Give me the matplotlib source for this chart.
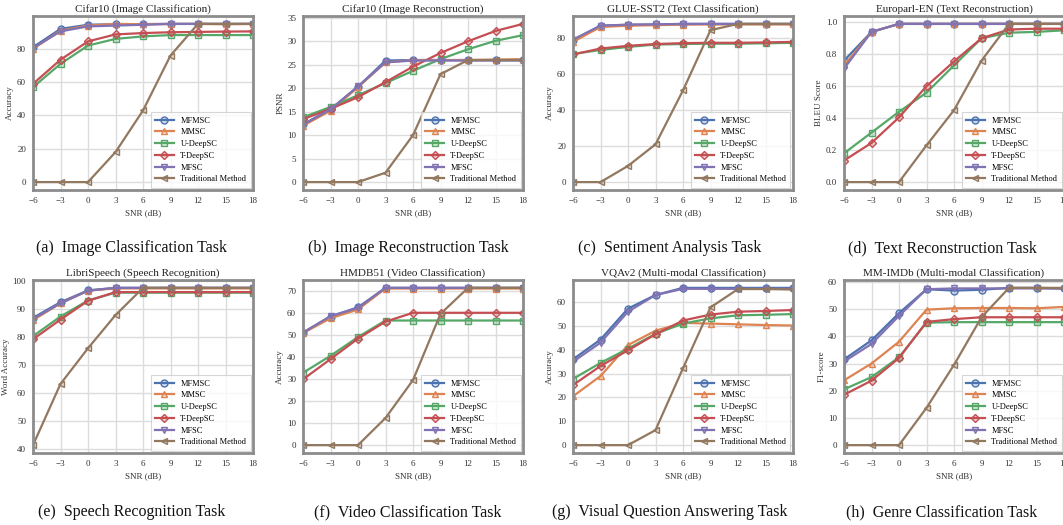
import matplotlib
matplotlib.use("Agg")
import matplotlib.pyplot as plt
from matplotlib.colors import to_rgba

snr = [-6, -3, 0, 3, 6, 9, 12, 15, 18]
methods = ["MFMSC", "MMSC", "U-DeepSC", "T-DeepSC", "MFSC", "Traditional Method"]

titles = ["Cifar10 (Image Classification)", "Cifar10 (Image Reconstruction)",
          "GLUE-SST2 (Text Classification)", "Europarl-EN (Text Reconstruction)",
          "LibriSpeech (Speech Recognition)", "HMDB51 (Video Classification)",
          "VQAv2 (Multi-modal Classification)", "MM-IMDb (Multi-modal Classification)"]
ylabels = ["Accuracy", "PSNR", "Accuracy", "BLEU Score",
           "Word Accuracy", "Accuracy", "Accuracy", "F1-score"]
captions = ["(a)  Image Classification Task", "(b)  Image Reconstruction Task",
            "(c)  Sentiment Analysis Task", "(d)  Text Reconstruction Task",
            "(e)  Speech Recognition Task", "(f)  Video Classification Task",
            "(g)  Visual Question Answering Task", "(h)  Genre Classification Task"]

# (a) Cifar10 classification
a_mfmsc = [81, 92, 94.5, 94.8, 94.9, 95, 95, 95, 95]
a_mmsc = [80, 91, 94, 95, 94.8, 95, 95, 94.8, 95]
a_udeep = [57, 71, 82, 86, 87.5, 88.3, 88.3, 88.3, 88.3]
a_tdeep = [59, 73.5, 84.5, 88.7, 89.5, 90, 90.2, 90.4, 90.5]
a_mfsc = [80.5, 90.5, 93.5, 94, 94.5, 95, 95, 95, 95]
a_trad = [0, 0, 0, 18, 43, 76, 95, 95, 95]

# (b) Cifar10 reconstruction
b_mfmsc = [12.3, 15.5, 20.3, 25.9, 26, 26, 26, 26, 26]
b_mmsc = [12, 15.2, 20.2, 25.5, 26, 26, 26, 26.1, 26.2]
b_udeep = [13.8, 16, 18.5, 21.1, 23.7, 26.2, 28.3, 30.1, 31.3]
b_tdeep = [13.4, 15.6, 18.1, 21.3, 24.6, 27.5, 30, 32.2, 33.7]
b_mfsc = [12.2, 15.5, 20.4, 25.5, 25.9, 25.9, 25.9, 25.9, 25.9]
b_trad = [0, 0, 0, 2, 10, 23, 26, 26, 26]

# (c) GLUE-SST2
c_mfmsc = [79, 87, 87.5, 87.7, 88, 88, 88, 88, 88]
c_mmsc = [78, 86.3, 87, 87.3, 87.6, 87.7, 87.7, 87.7, 87.7]
c_udeep = [71.3, 73.5, 75.2, 76.5, 76.8, 77, 77, 77.2, 77.5]
c_tdeep = [71, 74.3, 75.8, 76.8, 77.3, 77.5, 77.5, 77.7, 78]
c_mfsc = [79.3, 87, 87.6, 87.7, 88, 88, 88, 88, 88]
c_trad = [0, 0, 9, 21, 51, 84.5, 88, 88, 88]

# (d) Europarl-EN
d_mfmsc = [0.76, 0.94, 0.99, 0.99, 0.99, 0.99, 0.99, 0.99, 0.99]
d_mmsc = [0.73, 0.94, 0.99, 0.99, 0.99, 0.99, 0.99, 0.99, 0.99]
d_udeep = [0.18, 0.31, 0.44, 0.56, 0.73, 0.90, 0.935, 0.94, 0.95]
d_tdeep = [0.135, 0.245, 0.405, 0.60, 0.755, 0.90, 0.955, 0.96, 0.96]
d_mfsc = [0.71, 0.94, 0.99, 0.99, 0.99, 0.99, 0.99, 0.99, 0.99]
d_trad = [0, 0, 0, 0.23, 0.45, 0.76, 0.99, 0.99, 0.99]

# (e) LibriSpeech
e_mfmsc = [86.8, 92.4, 96.6, 97.5, 97.5, 97.5, 97.5, 97.5, 97.5]
e_mmsc = [86, 92, 96.5, 97.3, 97.3, 97.3, 97.3, 97.3, 97.3]
e_udeep = [80.3, 87.3, 93, 95.8, 95.8, 95.8, 95.8, 95.8, 95.8]
e_tdeep = [79.2, 86.2, 92.9, 96, 96, 96, 96, 96, 96]
e_mfsc = [86.5, 92, 96.5, 97.5, 97.5, 97.5, 97.5, 97.5, 97.5]
e_trad = [41.5, 63.3, 76, 87.8, 97.5, 97.5, 97.5, 97.5, 97.5]

# (f) HMDB51
f_mfmsc = [51, 58.3, 62.5, 71.3, 71.3, 71.3, 71.3, 71.3, 71.3]
f_mmsc = [50.8, 57.5, 61.5, 71, 71, 71, 71, 71, 71]
f_udeep = [32.8, 40.5, 49, 56.5, 56.5, 56.5, 56.5, 56.5, 56.5]
f_tdeep = [29.8, 39, 48.3, 56, 60, 60, 60, 60, 60]
f_mfsc = [51, 58.5, 62.2, 71.3, 71.3, 71.3, 71.3, 71.3, 71.3]
f_trad = [0, 0, 0, 12.3, 29.5, 59.5, 71.3, 71.3, 71.3]

# (g) VQAv2
g_mfmsc = [36, 44.3, 57.3, 63, 66, 66, 66, 66, 66]
g_mmsc = [20.5, 29, 42, 48, 51.3, 51, 50.7, 50.4, 50.2]
g_udeep = [27.8, 34.5, 40.5, 46.7, 51, 53.2, 54.5, 54.7, 55]
g_tdeep = [25.2, 33.2, 39.8, 46.5, 52.3, 54.8, 56, 56.3, 56.7]
g_mfsc = [35, 43, 56, 63, 65.6, 65.6, 65.6, 65.6, 65.6]
g_trad = [0, 0, 0, 6.3, 32.3, 57.8, 65.5, 65.5, 65.3]

# (h) MM-IMDb
h_mfmsc = [31.5, 38.5, 48.5, 57.3, 56.8, 57.1, 57.8, 57.8, 57.6]
h_mmsc = [23.8, 30, 38, 49.8, 50.3, 50.4, 50.4, 50.3, 50.8]
h_udeep = [20.5, 25, 32.3, 45, 45.2, 45.2, 45.2, 45.2, 45.2]
h_tdeep = [18.5, 23.7, 32, 45.3, 46.3, 47, 47, 47, 47]
h_mfsc = [30.7, 37.2, 47.5, 57.3, 57.6, 57.6, 57.6, 57.6, 57.5]
h_trad = [0, 0, 0, 13.7, 29.5, 47, 57.8, 57.8, 57.8]

panels = [
    [a_mfmsc, a_mmsc, a_udeep, a_tdeep, a_mfsc, a_trad],
    [b_mfmsc, b_mmsc, b_udeep, b_tdeep, b_mfsc, b_trad],
    [c_mfmsc, c_mmsc, c_udeep, c_tdeep, c_mfsc, c_trad],
    [d_mfmsc, d_mmsc, d_udeep, d_tdeep, d_mfsc, d_trad],
    [e_mfmsc, e_mmsc, e_udeep, e_tdeep, e_mfsc, e_trad],
    [f_mfmsc, f_mmsc, f_udeep, f_tdeep, f_mfsc, f_trad],
    [g_mfmsc, g_mmsc, g_udeep, g_tdeep, g_mfsc, g_trad],
    [h_mfmsc, h_mmsc, h_udeep, h_tdeep, h_mfsc, h_trad],
]

colors = ["#4C72B0", "#DD8452", "#55A868", "#C44E52", "#8172B3", "#937860"]
markers = ["o", "^", "s", "D", "v", "<"]
msizes = [5, 5, 5, 4.5, 5, 5]

plt.rcParams["font.family"] = ["Liberation Serif", "DejaVu Serif"]

W, H = 1063, 525
fig = plt.figure(figsize=(W / 100, H / 100), dpi=100)

lefts = [33, 303, 573, 844]
rows = [(16, 190), (280, 453)]
cap_x = [132, 408, 670, 942]
cap_y = [248, 512]
axw = 220

for i, data in enumerate(panels):
    r, c = divmod(i, 4)
    top, bot = rows[r]
    ax = fig.add_axes([lefts[c] / W, 1 - bot / H, axw / W, (bot - top) / H])
    ax.set_facecolor("white")
    ax.grid(True, color="#dcdcdc", linewidth=1.0)
    ax.set_axisbelow(True)
    for sp in ax.spines.values():
        sp.set_color("#8c8c8c")
        sp.set_linewidth(2.0)
    for k, ys in enumerate(data):
        col = colors[k]
        ax.plot(snr, ys, color=col, marker=markers[k], markersize=msizes[k],
                markerfacecolor=to_rgba(col, 0.25), markeredgecolor=col,
                markeredgewidth=1.0, linewidth=1.6, label=methods[k])
    ax.set_xlim(-6, 18)
    ax.set_xticks(snr)
    ax.tick_params(axis="both", length=0, labelsize=6.5, colors="#333333", pad=5)
    ax.set_xlabel("SNR (dB)", fontsize=6.5, color="#333333", labelpad=3)
    ax.set_ylabel(ylabels[i], fontsize=6.5, color="#333333", labelpad=2)
    ax.set_title(titles[i], fontsize=8, color="#222222", pad=3)
    leg = ax.legend(loc="lower right", fontsize=6, frameon=True, fancybox=False,
                    edgecolor="#cccccc", borderaxespad=0.3, handlelength=2.2,
                    labelspacing=0.45, borderpad=0.5)
    leg.get_frame().set_linewidth(0.8)
    fig.text(cap_x[c] / W, 1 - cap_y[r] / H, captions[i], ha="center", va="center",
             fontsize=11.5, color="#111111")

fig.savefig("out.png", dpi=100)
